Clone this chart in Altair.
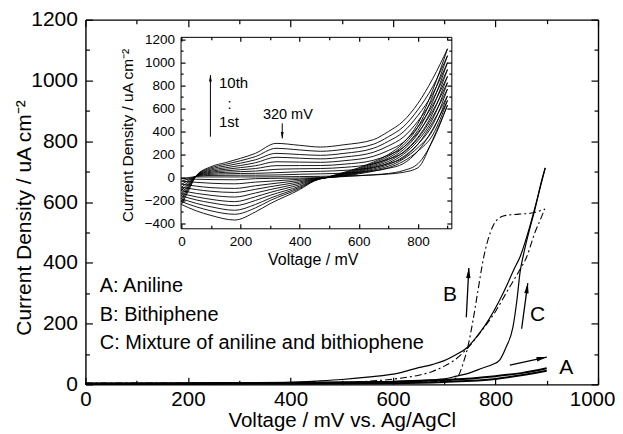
import altair as alt
import pandas as pd

FONT = "Liberation Sans"
W, H = 513, 365

# ---------------- main chart data (mV, uA cm-2) ----------------
c_fwd_v = [0, 200, 400, 600, 650, 700, 724, 750, 775, 795, 808, 820, 834, 842, 848, 855, 865, 877, 890, 897]
c_fwd_i = [3, 4, 6, 10, 13, 18, 27, 38, 54, 66, 80, 120, 188, 280, 370, 430, 500, 577, 670, 712]
c_rev_v = [897, 883, 867, 848, 835, 824, 808, 780, 760, 746, 720, 700, 678, 650, 613, 550, 500, 450, 400, 300, 200, 100, 0]
c_rev_i = [712, 620, 520, 420, 375, 333, 277, 195, 150, 123, 95, 78, 66, 55, 38, 24, 16, 11, 7, 4, 3, 2, 2]
b_fwd_v = [0, 200, 400, 600, 700, 715, 727, 737, 746, 755, 765, 776, 790, 805, 820, 845, 867, 885, 896]
b_fwd_i = [4, 4, 5, 7, 10, 15, 27, 70, 123, 200, 300, 410, 500, 545, 556, 560, 563, 570, 577]
b_rev_v = [896, 887, 877, 861, 845, 824, 800, 770, 746, 720, 700, 678, 650, 613, 550, 500, 400, 200, 0]
b_rev_i = [577, 540, 500, 420, 370, 310, 240, 170, 120, 80, 60, 43, 30, 20, 10, 6, 4, 3, 3]
a_fwd_v = [0, 200, 400, 600, 700, 800, 850, 900]
a_fwd_i = [3, 4, 5, 8, 14, 27, 37, 53]
a_rev_v = [900, 850, 800, 700, 600, 400, 200, 0]
a_rev_i = [45, 30, 18, 8, 4, 2, 1, 1]

legend_lines = ["A: Aniline", "B: Bithiphene", "C: Mixture of aniline and bithiophene"]
legend_v = [28, 28, 28]
legend_i = [303, 208, 115]
curve_labels = ["B", "C", "A"]
curve_label_v = [711, 882, 938]
curve_label_i = [293, 227, 53]

# arrows: start (v, i) -> tip (v, i), head centre and rotation
arrow_ids = ["A", "B", "C"]
arrow_v0 = [828, 743, 851]
arrow_i0 = [63, 221, 183]
arrow_v1 = [900, 748, 863]
arrow_i1 = [90, 383, 333]
head_v = [890.5, 747.5, 861.7]
head_i = [86.4, 366.5, 316.7]
head_ang = [77.5, 3, 7.7]

# ---------------- inset data: 10 cycles ----------------
fwd_v = [0, 25, 50, 100, 150, 200, 250, 320, 400, 470, 550, 650, 700, 750, 800, 850, 900]
f1 = [-10, 0, 5, 5, 5, 5, 5, 6, 8, 10, 14, 22, 30, 45, 85, 330, 630]
f2 = [-32, -12, 10, 18, 19, 20, 20, 22, 28, 32, 38, 58, 80, 120, 230, 420, 670]
f3 = [-58, -24, 11, 28, 32, 35, 36, 42, 50, 54, 62, 88, 120, 170, 290, 480, 710]
f4 = [-85, -35, 12, 37, 45, 51, 56, 71, 76, 78, 88, 120, 160, 215, 340, 530, 770]
f5 = [-115, -46, 13, 46, 58, 68, 78, 103, 104, 104, 116, 150, 195, 260, 390, 580, 825]
f6 = [-140, -58, 14, 55, 71, 86, 102, 137, 134, 132, 146, 185, 235, 305, 440, 630, 880]
f7 = [-160, -70, 14, 64, 85, 105, 128, 176, 168, 162, 178, 220, 275, 350, 490, 680, 940]
f8 = [-185, -82, 15, 74, 100, 125, 154, 210, 200, 193, 210, 255, 315, 395, 540, 730, 1000]
f9 = [-210, -95, 15, 84, 115, 146, 182, 254, 240, 228, 245, 290, 355, 440, 590, 790, 1060]
f10 = [-235, -110, 15, 94, 130, 167, 210, 297, 280, 265, 285, 330, 400, 490, 645, 860, 1120]

rev_v = [900, 850, 800, 750, 700, 650, 600, 550, 500, 450, 400, 300, 250, 180, 100, 50, 0]
r1 = [630, 320, 120, 60, 35, 24, 15, 8, 2, -2, -5, -8, -10, -20, -18, -15, -10]
r2 = [670, 370, 230, 140, 85, 55, 32, 12, 0, -6, -15, -32, -40, -55, -50, -42, -32]
r3 = [710, 410, 260, 160, 98, 65, 38, 16, 0, -9, -26, -56, -72, -95, -88, -75, -58]
r4 = [770, 460, 290, 180, 112, 75, 44, 20, 1, -12, -38, -80, -103, -130, -120, -105, -85]
r5 = [825, 510, 320, 200, 126, 85, 50, 24, 2, -15, -50, -105, -135, -170, -155, -138, -115]
r6 = [880, 560, 350, 220, 140, 95, 56, 28, 3, -18, -62, -130, -168, -210, -190, -168, -140]
r7 = [940, 610, 380, 240, 155, 105, 63, 32, 4, -21, -75, -155, -200, -245, -220, -195, -160]
r8 = [1000, 660, 410, 260, 170, 115, 70, 36, 5, -24, -85, -180, -235, -285, -255, -225, -185]
r9 = [1060, 710, 440, 280, 185, 125, 78, 40, 6, -27, -95, -200, -265, -320, -290, -255, -210]
r10 = [1120, 760, 470, 300, 200, 135, 85, 45, 8, -30, -105, -228, -300, -370, -330, -290, -235]

inset_texts = ["10th", ":", "1st", "320 mV"]
inset_text_v = [127, 163, 127, 360]
inset_text_i = [819, 630, 485, 543]
inset_text_align = ["left", "center", "left", "center"]
inset_arrow_ids = ["cyc", "peak"]
inset_arrow_v0 = [98, 341]
inset_arrow_i0 = [355, 471]
inset_arrow_v1 = [98, 341]
inset_arrow_i1 = [891, 341]
inset_head_v = [98, 341]
inset_head_i = [865, 367]
inset_head_ang = [0, 180]

# ---------------- tables ----------------
def branch(name, vs, cs):
    return [{"key": name, "v": v, "i": c} for v, c in zip(vs, cs)]

c_df = pd.DataFrame(branch("Cf", c_fwd_v, c_fwd_i) + branch("Cr", c_rev_v, c_rev_i))
b_df = pd.DataFrame(branch("Bf", b_fwd_v, b_fwd_i) + branch("Br", b_rev_v, b_rev_i))
a_df = pd.DataFrame(branch("Af", a_fwd_v, a_fwd_i) + branch("Ar", a_rev_v, a_rev_i))

arrow_rows = []
for k, v0, i0, v1, i1 in zip(arrow_ids, arrow_v0, arrow_i0, arrow_v1, arrow_i1):
    arrow_rows += [{"key": k, "v": v0, "i": i0}, {"key": k, "v": v1, "i": i1}]
arrow_df = pd.DataFrame(arrow_rows)
head_df = pd.DataFrame({"v": head_v, "i": head_i, "ang": head_ang})
legend_df = pd.DataFrame({"v": legend_v, "i": legend_i, "t": legend_lines})
clab_df = pd.DataFrame({"v": curve_label_v, "i": curve_label_i, "t": curve_labels})

fwd_sets = [f1, f2, f3, f4, f5, f6, f7, f8, f9, f10]
rev_sets = [r1, r2, r3, r4, r5, r6, r7, r8, r9, r10]
inset_rows = []
for n, (fs, rs) in enumerate(zip(fwd_sets, rev_sets), start=1):
    inset_rows += branch(f"f{n}", fwd_v, fs)
    inset_rows += branch(f"r{n}", rev_v, rs)
inset_df = pd.DataFrame(inset_rows)

iarrow_rows = []
for k, v0, i0, v1, i1 in zip(inset_arrow_ids, inset_arrow_v0, inset_arrow_i0, inset_arrow_v1, inset_arrow_i1):
    iarrow_rows += [{"key": k, "v": v0, "i": i0}, {"key": k, "v": v1, "i": i1}]
iarrow_df = pd.DataFrame(iarrow_rows)
ihead_df = pd.DataFrame({"v": inset_head_v, "i": inset_head_i, "ang": inset_head_ang})
itext_df = pd.DataFrame({"v": inset_text_v, "i": inset_text_i, "t": inset_texts, "al": inset_text_align})

dummy = pd.DataFrame({"v": [0], "i": [0]})

# ---------------- scales ----------------
def mx():
    return alt.Scale(domain=[0, 1000], range=[0, W], nice=False, zero=False)

def my():
    return alt.Scale(domain=[0, 1200], range=[H, 0], nice=False, zero=False)

IX_RNG = [95.2, 366.2]
IY_RNG = [208.8, 17.2]

def ix():
    return alt.Scale(domain=[-3, 913], range=IX_RNG, nice=False, zero=False)

def iy():
    return alt.Scale(domain=[-442, 1224], range=IY_RNG, nice=False, zero=False)

ARROW = "M0,-1L0.42,1L-0.42,1Z"


def enc(xs, ys):
    return dict(x=alt.X("v:Q", scale=xs, axis=None), y=alt.Y("i:Q", scale=ys, axis=None))


def tick_layer(xs, ys, xaxis, yaxis):
    return alt.Chart(dummy).mark_point(opacity=0, size=0).encode(
        x=alt.X("v:Q", scale=xs, axis=xaxis), y=alt.Y("i:Q", scale=ys, axis=yaxis))


def tax(orient, offset, values, size, domain=False, dw=1.4):
    return alt.Axis(orient=orient, offset=offset, values=values, labels=False, ticks=True,
                    tickSize=size, tickColor="black", tickWidth=1.2, domain=domain,
                    domainColor="black", domainWidth=dw, grid=False, title=None)

# ---------------- main group ----------------
main_x_axis = alt.Axis(orient="bottom", values=[0, 200, 400, 600, 800, 1000], ticks=False, format="d",
                       domain=True, domainColor="black", domainWidth=1.4,
                       labelFontSize=20.5, labelPadding=5, labelFlush=False, labelColor="black",
                       labelOffset=alt.ExprRef(expr="datum.value == 1000 ? -6 : 0"),
                       title="Voltage / mV vs. Ag/AgCl", titleFontSize=20.5, titleFontWeight="normal",
                       titleX=256.5, titleY=42.5, titleAlign="center", titleBaseline="alphabetic",
                       titleColor="black", grid=False)
main_y_axis = alt.Axis(orient="left", values=[0, 200, 400, 600, 800, 1000, 1200], ticks=False, format="d",
                       domain=True, domainColor="black", domainWidth=1.4,
                       labelFontSize=21, labelPadding=8, labelFlush=False, labelColor="black",
                       title="Current Density / uA cm\u207b\u00b2", titleFontSize=21, titleFontWeight="normal",
                       titleAngle=270, titleX=-54.5, titleY=198, titleAlign="center",
                       titleBaseline="alphabetic", titleColor="black", grid=False)

c_line = alt.Chart(c_df).mark_line(color="black", strokeWidth=1.2, interpolate="monotone").encode(
    detail="key:N", **enc(mx(), my()))
b_line = alt.Chart(b_df).mark_line(color="black", strokeWidth=1.1, strokeDash=[7, 3, 2, 3],
                                   interpolate="monotone").encode(detail="key:N", **enc(mx(), my()))
a_line = alt.Chart(a_df).mark_line(color="black", strokeWidth=2, interpolate="monotone").encode(
    detail="key:N", **enc(mx(), my()))
arrow_line = alt.Chart(arrow_df).mark_line(color="black", strokeWidth=1.3).encode(
    detail="key:N", **enc(mx(), my()))
arrow_head = alt.Chart(head_df).mark_point(shape=ARROW, filled=True, color="black", size=110,
                                           opacity=1, strokeWidth=0).encode(
    angle=alt.Angle("ang:Q", scale=None), **enc(mx(), my()))
legend_text = alt.Chart(legend_df).mark_text(align="left", baseline="alphabetic", fontSize=20,
                                             font=FONT, color="black").encode(
    text="t:N", **enc(mx(), my()))
clab_text = alt.Chart(clab_df).mark_text(align="center", baseline="middle", fontSize=21,
                                         font=FONT, color="black").encode(
    text="t:N", **enc(mx(), my()))

main_group = alt.layer(c_line, b_line, a_line, arrow_line, arrow_head, legend_text, clab_text)

mx_major = [0, 200, 400, 600, 800, 1000]
mx_minor = [100, 300, 500, 700, 900]
my_major = [0, 200, 400, 600, 800, 1000, 1200]
my_minor = [100, 300, 500, 700, 900, 1100]

m1 = tick_layer(mx(), my(), main_x_axis, main_y_axis)
m2 = tick_layer(mx(), my(), tax("top", -H, mx_major, 7), tax("right", -W, my_major, 7))
m3 = tick_layer(mx(), my(), tax("bottom", -H, mx_major, 7, True), tax("left", -W, my_major, 7, True))
m4 = tick_layer(mx(), my(), tax("top", -H, mx_minor, 4), tax("right", -W, my_minor, 4))
m5 = tick_layer(mx(), my(), tax("bottom", -H, mx_minor, 4), tax("left", -W, my_minor, 4))

# ---------------- inset group ----------------
inset_x_axis = alt.Axis(orient="bottom", offset=IY_RNG[0] - H, values=[0, 200, 400, 600, 800],
                        ticks=False, format="d", domain=True, domainColor="black", domainWidth=1,
                        labelFontSize=13.5, labelPadding=6, labelFlush=False, labelColor="black",
                        title="Voltage / mV", titleFontSize=16, titleFontWeight="normal",
                        titleX=227.5, titleY=36.7, titleAlign="center", titleBaseline="alphabetic",
                        titleColor="black", grid=False)
inset_y_axis = alt.Axis(orient="left", offset=-IX_RNG[0],
                        values=[-400, -200, 0, 200, 400, 600, 800, 1000, 1200],
                        ticks=False, format="d", domain=True, domainColor="black", domainWidth=1,
                        labelFontSize=13.5, labelPadding=6, labelFlush=False, labelColor="black",
                        title="Current Density / uA cm\u207b\u00b2", titleFontSize=15.5,
                        titleFontWeight="normal", titleAngle=270, titleX=-47.7, titleY=115.5,
                        titleAlign="center", titleBaseline="alphabetic", titleColor="black", grid=False)

inset_line = alt.Chart(inset_df).mark_line(color="black", strokeWidth=0.9, interpolate="monotone").encode(
    detail="key:N", **enc(ix(), iy()))
iarrow_line = alt.Chart(iarrow_df).mark_line(color="black", strokeWidth=1).encode(
    detail="key:N", **enc(ix(), iy()))
iarrow_head = alt.Chart(ihead_df).mark_point(shape=ARROW, filled=True, color="black", size=45,
                                             opacity=1, strokeWidth=0).encode(
    angle=alt.Angle("ang:Q", scale=None), **enc(ix(), iy()))
itext_left = alt.Chart(itext_df[itext_df["al"] == "left"]).mark_text(
    align="left", baseline="middle", fontSize=15, font=FONT, color="black").encode(
    text="t:N", **enc(ix(), iy()))
itext_center = alt.Chart(itext_df[itext_df["al"] == "center"]).mark_text(
    align="center", baseline="middle", fontSize=14.5, font=FONT, color="black").encode(
    text="t:N", **enc(ix(), iy()))

inset_group = alt.layer(inset_line, iarrow_line, iarrow_head, itext_left, itext_center)

ix_major = [0, 200, 400, 600, 800]
ix_minor = [100, 300, 500, 700, 900]
iy_major = [-400, -200, 0, 200, 400, 600, 800, 1000, 1200]
iy_minor = [-300, -100, 100, 300, 500, 700, 900, 1100]

i1 = tick_layer(ix(), iy(), inset_x_axis, inset_y_axis)
i2 = tick_layer(ix(), iy(), tax("top", -IY_RNG[0], ix_major, 4.5), tax("right", IX_RNG[0] - W, iy_major, 4.5))
i3 = tick_layer(ix(), iy(), tax("bottom", IY_RNG[1] - H, ix_major, 4.5, True, 1),
                tax("left", -IX_RNG[1], iy_major, 4.5, True, 1))
i4 = tick_layer(ix(), iy(), tax("top", -IY_RNG[0], ix_minor, 3), tax("right", IX_RNG[0] - W, iy_minor, 2.5))
i5 = tick_layer(ix(), iy(), tax("bottom", IY_RNG[1] - H, ix_minor, 3), tax("left", -IX_RNG[1], iy_minor, 2.5))

chart = alt.layer(main_group, m1, m2, m3, m4, m5, inset_group, i1, i2, i3, i4, i5).resolve_scale(
    x="independent", y="independent").resolve_axis(x="independent", y="independent").properties(
    width=W, height=H,
    autosize=alt.AutoSizeParams(type="none"),
    padding={"left": 77.5, "top": 11.5, "right": 17, "bottom": 47},
).configure_view(stroke=None).configure_axis(labelFont=FONT, titleFont=FONT).configure_text(font=FONT)

chart.save("out.html", embed_options={"renderer": "svg", "actions": False})
